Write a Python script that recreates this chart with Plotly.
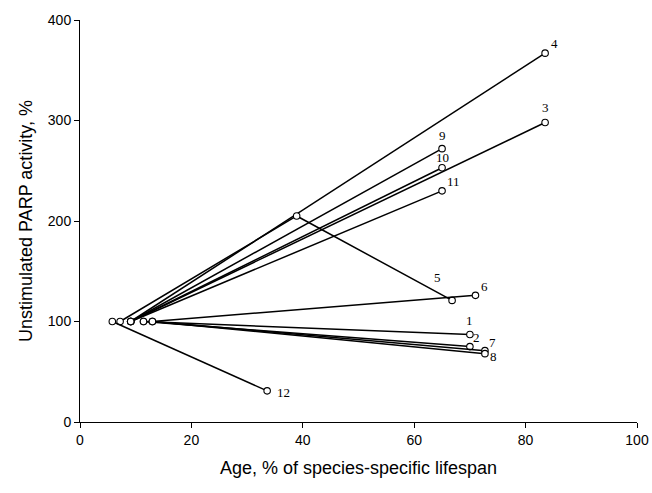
import plotly.graph_objects as go

series_names = ["1", "2", "3", "4", "5", "6", "7", "8", "9", "10", "11", "12"]
series_x = [
    [11.4, 70.0],
    [11.4, 70.0],
    [9.1, 83.5],
    [9.1, 83.5],
    [7.2, 38.9, 66.8],
    [13.0, 71.0],
    [13.0, 72.7],
    [13.0, 72.7],
    [9.1, 65.0],
    [9.1, 65.0],
    [9.1, 65.0],
    [5.8, 33.6],
]
series_y = [
    [100, 87],
    [100, 75],
    [100, 298],
    [100, 367],
    [100, 205, 121],
    [100, 126],
    [100, 71],
    [100, 68],
    [100, 272],
    [100, 253],
    [100, 230],
    [100, 31],
]
# label offsets in pixels (dx, dy) relative to series end point
label_offsets = {
    "1": (0, 14), "2": (7, 9), "3": (0, 15), "4": (9, 10), "5": (-15, 23),
    "6": (9, 9), "7": (8, 8), "8": (9, -3), "9": (0, 13), "10": (0, 10),
    "11": (11, 9), "12": (16, -2),
}

fig = go.Figure()
for name, xs, ys in zip(series_names, series_x, series_y):
    fig.add_trace(go.Scatter(
        x=xs, y=ys, mode="lines+markers", name=name,
        line=dict(color="black", width=1.5),
        marker=dict(symbol="circle", size=6.5, color="white",
                    line=dict(color="black", width=1.1)),
        showlegend=False, hoverinfo="skip",
    ))
    dx, dy = label_offsets[name]
    fig.add_annotation(
        x=xs[-1], y=ys[-1], text=name, showarrow=False,
        xshift=dx, yshift=dy,
        font=dict(family="Liberation Serif, serif", size=13, color="#000000"),
    )

fig.update_layout(
    width=652, height=493,
    margin=dict(l=80, r=15, t=20, b=71),
    plot_bgcolor="white", paper_bgcolor="white",
    font=dict(family="Liberation Sans, Arial, sans-serif", color="black"),
)
fig.update_xaxes(
    range=[0, 100], tickvals=[0, 20, 40, 60, 80, 100],
    showline=True, linecolor="black", linewidth=1,
    ticks="outside", ticklen=5, tickcolor="black",
    showgrid=False, zeroline=False,
    tickfont=dict(size=14), automargin=False,
    title=dict(text="Age, % of species-specific lifespan", font=dict(size=18), standoff=14),
)
fig.update_yaxes(
    range=[0, 400], tickvals=[0, 100, 200, 300, 400],
    showline=True, linecolor="black", linewidth=1,
    ticks="outside", ticklen=5, tickcolor="black",
    showgrid=False, zeroline=False,
    tickfont=dict(size=14), automargin=False,
    title=dict(text="Unstimulated PARP activity, %", font=dict(size=18), standoff=10),
)

fig.write_html(
    "out.html",
    config={"displayModeBar": False},
    post_script="document.body.style.margin='0';document.body.style.overflow='hidden';",
)
